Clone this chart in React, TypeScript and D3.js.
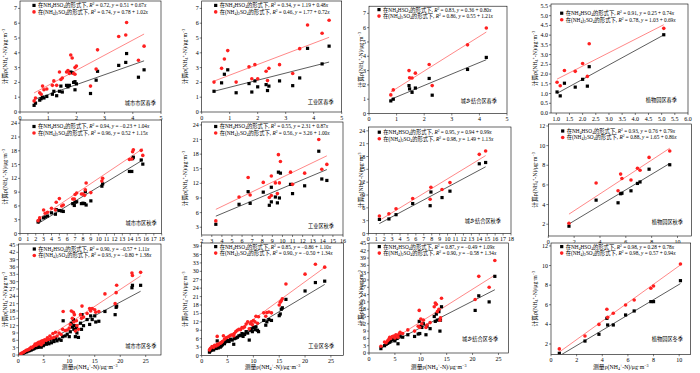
import React from "react";
import * as d3 from "d3";

// [measured, calc as NH4HSO4, calc as (NH4)2SO4]
type Obs = [number, number, number];

const urbanSpring: Obs[] = [
  [0.5, 0.45, 0.75], [0.55, 0.6, 0.95], [0.7, 0.8, 1.3], [0.75, 0.9, 1.2], [0.8, 1.0, 1.75],
  [0.85, 0.95, 1.5], [0.95, 1.05, 1.55], [1.15, 1.2, 1.8], [1.2, 1.4, 2.1], [1.3, 1.1, 1.8],
  [1.4, 1.4, 2.7], [1.45, 1.75, 2.2], [1.5, 1.35, 2.3], [1.65, 1.8, 2.7], [1.7, 1.7, 2.8],
  [1.75, 1.8, 2.6], [1.8, 2.7, 3.85], [1.85, 2.65, 3.65], [1.9, 2.0, 2.6], [1.95, 2.05, 3.0],
  [2.0, 1.9, 3.1], [1.95, 1.5, 2.55], [2.5, 1.25, 1.75], [2.7, 2.15, 2.9], [2.75, 2.75, 4.2],
  [3.5, 3.15, 5.1], [3.75, 3.35, 5.2], [3.78, 3.95, 6.05], [4.2, 2.35, 3.5], [4.4, 2.85, 4.45],
];
const industrialSpring: Obs[] = [
  [0.44, 1.4, 2.02], [0.71, 1.97, 2.95], [0.81, 2.55, 3.58], [0.93, 2.85, 4.15], [1.23, 1.3, 2.02],
  [1.69, 1.92, 3.05], [1.79, 1.35, 2.25], [1.9, 2.1, 3.2], [2.0, 1.7, 2.25], [2.3, 1.85, 2.75],
  [2.35, 1.45, 2.12], [2.4, 1.75, 2.95], [2.78, 2.1, 3.2], [3.25, 1.78, 2.6], [3.5, 2.3, 4.28],
  [3.78, 4.3, 5.88], [4.3, 3.25, 5.32], [4.55, 4.45, 6.2],
];
const periurbanSpring: Obs[] = [
  [0.79, 0.88, 1.3], [0.88, 1.0, 1.65], [1.45, 1.95, 3.0], [1.47, 1.72, 2.5], [1.56, 1.48, 2.48],
  [1.68, 1.78, 2.82], [2.18, 2.45, 3.42], [2.29, 1.28, 1.95], [3.57, 3.08, 4.8], [4.25, 3.92, 5.98],
];
const botanicalSpring: Obs[] = [
  [1.03, 1.08, 1.58], [1.15, 0.88, 1.4], [1.31, 1.53, 2.18], [1.72, 1.33, 2.14],
  [2.0, 1.73, 2.54], [2.18, 1.38, 1.88], [2.25, 2.38, 3.56], [5.08, 4.02, 4.35],
];
const urbanAutumn: Obs[] = [
  [2.3, 2.5, 2.8], [2.5, 2.9, 3.4], [3.0, 3.4, 5.1], [3.2, 3.6, 4.4], [3.5, 3.8, 4.6],
  [4.0, 4.5, 5.5], [4.5, 4.2, 5.1], [4.6, 5.2, 6.8], [5.0, 5.0, 7.6], [5.3, 4.9, 6.0],
  [5.5, 4.8, 6.2], [6.7, 6.5, 7.5], [6.9, 6.1, 7.5], [7.0, 6.8, 8.5], [7.2, 6.9, 8.8],
  [7.8, 6.5, 8.6], [8.0, 6.6, 8.6], [8.2, 6.5, 8.3], [8.4, 6.2, 11.0], [8.3, 9.1, 9.5],
  [9.0, 7.1, 8.9], [10.4, 10.3, 11.4], [10.5, 10.8, 12.0], [13.9, 13.5, 16.1], [14.2, 13.5, 16.2],
  [14.3, 16.3, 17.8], [14.4, 16.6, 18.2], [15.4, 16.0, 18.1], [15.6, 15.1, 17.0],
];
const industrialAutumn: Obs[] = [
  [3.4, 3.6, 4.3], [5.7, 7.7, 9.2], [6.6, 10.3, 13.2], [6.8, 7.9, 9.6], [8.1, 10.2, 12.2],
  [8.7, 7.5, 9.1], [8.9, 8.2, 9.5], [8.9, 11.2, 13.5], [9.3, 9.2, 12.1], [9.5, 8.0, 9.9],
  [9.6, 14.3, 17.9], [9.7, 9.0, 12.1], [9.8, 14.1, 16.5], [10.8, 11.8, 14.3], [11.0, 9.9, 11.8],
  [12.2, 11.5, 14.1], [13.6, 18.6, 21.0], [13.9, 12.9, 14.9], [14.4, 12.6, 15.9],
];
const periurbanAutumn: Obs[] = [
  [1.4, 3.3, 4.1], [2.6, 3.4, 4.6], [3.5, 4.4, 5.8], [5.6, 7.0, 8.2], [7.8, 6.5, 8.0],
  [7.9, 9.7, 10.8], [9.3, 8.4, 10.3], [10.3, 9.9, 11.9], [14.0, 16.3, 18.5], [14.8, 16.6, 19.3],
];
const botanicalAutumn: Obs[] = [
  [1.6, 1.8, 2.1], [3.7, 4.45, 6.2], [5.4, 4.18, 5.4], [5.6, 5.1, 7.1], [5.7, 5.15, 6.65],
  [6.4, 5.4, 6.5], [6.9, 6.15, 7.7], [7.1, 6.3, 7.5], [7.8, 7.6, 8.8], [9.4, 8.05, 9.45],
];
const urbanWinter: Obs[] = [
  [0.5, 0.3, 0.5], [0.7, 0.5, 0.8], [1.0, 0.8, 1.1], [1.2, 1.0, 1.4], [1.5, 1.2, 1.8],
  [1.7, 1.4, 2.0], [2.0, 1.7, 2.2], [2.2, 1.8, 2.5], [2.5, 2.0, 3.2], [2.7, 2.3, 3.0],
  [3.0, 2.5, 3.6], [3.2, 2.8, 3.9], [3.3, 3.5, 4.5], [3.5, 3.0, 4.0], [3.7, 3.3, 4.8],
  [3.9, 3.1, 4.5], [4.0, 3.8, 5.2], [4.2, 3.5, 4.7], [4.4, 4.0, 5.5], [4.5, 3.2, 4.2],
  [4.7, 4.5, 5.8], [4.9, 3.8, 5.0], [5.0, 4.2, 5.9], [5.2, 5.0, 6.2], [5.5, 4.4, 6.0],
  [5.7, 5.5, 7.0], [6.0, 4.6, 6.4], [6.2, 6.2, 7.8], [6.5, 5.0, 6.9], [6.8, 6.5, 8.8],
  [7.0, 5.5, 7.2], [7.3, 6.8, 9.3], [7.6, 5.8, 7.8], [8.0, 6.5, 9.0], [8.4, 6.0, 8.4],
  [8.7, 7.5, 10.5], [8.8, 14.0, 17.8], [9.2, 7.8, 10.0], [9.6, 8.5, 10.2], [10.0, 7.5, 11.0],
  [10.2, 9.5, 12.5], [10.4, 13.0, 18.0], [10.6, 11.5, 15.0], [10.8, 14.5, 17.5], [10.9, 10.5, 13.5],
  [11.0, 12.0, 16.5], [11.2, 7.5, 9.8], [11.4, 11.0, 14.0], [11.5, 9.0, 12.0], [11.8, 7.2, 10.5],
  [12.2, 13.0, 16.5], [12.4, 10.5, 15.0], [12.5, 16.5, 20.0], [12.8, 12.0, 15.5], [13.5, 14.5, 17.0],
  [14.0, 12.5, 19.0], [14.2, 16.0, 18.0], [14.5, 14.5, 19.0], [15.0, 16.0, 18.5], [15.2, 13.5, 17.5],
  [15.8, 13.8, 17.8], [17.0, 17.8, 25.0], [19.0, 16.5, 21.0], [19.2, 19.5, 25.5], [19.3, 20.0, 28.5],
  [22.3, 27.5, 33.5], [22.4, 28.5, 32.5], [24.0, 28.5, 33.8],
];
const industrialWinter: Obs[] = [
  [1.5, 1.2, 2.0], [1.7, 1.8, 2.6], [2.0, 2.3, 3.2], [2.3, 2.0, 2.9], [2.5, 2.8, 3.6],
  [2.8, 2.5, 3.4], [3.0, 5.2, 6.8], [3.0, 3.0, 4.0], [3.2, 2.7, 3.8], [3.4, 3.2, 4.2],
  [3.6, 3.0, 4.4], [3.8, 3.4, 4.6], [4.0, 3.8, 5.0], [4.2, 4.5, 7.0], [4.4, 4.2, 5.8],
  [4.7, 5.0, 6.3], [5.0, 5.3, 6.5], [5.3, 5.0, 6.8], [5.6, 5.8, 7.2], [5.9, 5.5, 7.4],
  [6.2, 4.0, 7.0], [6.3, 6.0, 7.8], [6.6, 6.2, 8.5], [6.9, 6.5, 9.0], [7.2, 7.0, 9.3],
  [7.5, 7.2, 9.2], [7.8, 7.8, 10.0], [8.0, 6.8, 9.8], [8.3, 7.5, 10.2], [8.6, 8.5, 11.2],
  [8.9, 8.0, 12.0], [9.2, 5.5, 9.5], [9.4, 9.0, 11.3], [9.6, 9.5, 12.0], [9.8, 8.5, 11.0],
  [10.0, 10.0, 12.5], [10.3, 9.2, 12.0], [10.5, 10.2, 14.0], [10.8, 9.0, 11.5], [11.0, 8.5, 13.8],
  [12.0, 12.5, 15.2], [12.4, 10.8, 14.0], [12.6, 12.0, 15.3], [13.0, 12.8, 15.5], [13.5, 12.5, 15.2],
  [15.0, 14.2, 18.0], [15.2, 14.8, 19.0], [15.4, 16.5, 19.5], [15.6, 17.0, 20.2], [16.3, 20.0, 25.5],
  [20.0, 23.0, 29.0], [22.0, 26.0, 32.5], [23.8, 26.5, 31.5],
];
const periurbanWinter: Obs[] = [
  [2.3, 1.8, 2.8], [3.0, 3.0, 4.5], [3.3, 3.6, 4.2], [3.6, 4.0, 5.0], [3.8, 4.5, 5.5],
  [4.0, 4.5, 6.5], [4.2, 5.0, 6.0], [4.5, 5.5, 6.8], [4.8, 6.0, 7.0], [5.0, 5.0, 6.2],
  [5.2, 6.5, 7.5], [5.4, 6.0, 7.2], [5.6, 3.8, 6.5], [5.8, 6.8, 7.8], [6.0, 7.0, 8.5],
  [6.5, 6.5, 8.0], [7.5, 7.5, 9.5], [8.8, 6.8, 9.0], [9.5, 7.8, 11.0], [9.7, 13.0, 17.5],
  [9.8, 8.0, 10.5], [10.0, 11.0, 14.0], [10.2, 10.5, 12.0], [10.5, 12.0, 13.5], [11.0, 7.5, 10.5],
  [11.2, 11.0, 11.5], [11.8, 10.0, 12.5], [12.6, 15.0, 19.0], [12.8, 13.0, 20.5], [13.0, 16.0, 20.0],
  [13.2, 13.5, 17.0], [13.5, 17.0, 18.0], [13.7, 9.0, 13.5], [13.8, 13.5, 14.5], [14.0, 19.0, 22.5],
  [20.5, 17.5, 22.0], [21.2, 23.5, 31.5], [23.2, 21.0, 27.0], [24.3, 31.5, 38.0],
];
const botanicalWinter: Obs[] = [
  [0.65, 1.05, 1.5], [2.65, 2.3, 2.82], [3.74, 2.99, 4.0], [4.36, 4.62, 5.54], [4.42, 3.94, 4.72],
  [4.86, 3.94, 5.13], [5.82, 4.96, 5.98], [6.49, 5.37, 6.49], [7.79, 6.32, 7.68], [8.0, 6.32, 7.92],
  [10.1, 8.46, 10.16],
];

const panelData = [
  urbanSpring, industrialSpring, periurbanSpring, botanicalSpring,
  urbanAutumn, industrialAutumn, periurbanAutumn, botanicalAutumn,
  urbanWinter, industrialWinter, periurbanWinter, botanicalWinter,
];
const regionNames = [
  "城市市区春季", "工业区春季", "城乡结合区春季", "植物园区春季",
  "城市市区秋季", "工业区秋季", "城乡结合区秋季", "植物园区秋季",
  "城市市区冬季", "工业区冬季", "城乡结合区冬季", "植物园区冬季",
];
// [R2, intercept, slope]
const fitsHSO4 = [
  [0.72, 0.51, 0.67], [0.34, 1.19, 0.48], [0.83, 0.36, 0.8], [0.91, 0.25, 0.74],
  [0.94, -0.23, 1.04], [0.55, 2.31, 0.87], [0.95, 0.94, 0.99], [0.93, 0.76, 0.79],
  [0.9, -0.57, 1.11], [0.85, -0.86, 1.1], [0.87, -0.49, 1.09], [0.98, 0.28, 0.78],
];
const fitsSO4 = [
  [0.74, 0.78, 1.02], [0.46, 1.77, 0.72], [0.86, 0.55, 1.21], [0.78, 1.03, 0.69],
  [0.96, 0.52, 1.15], [0.56, 3.26, 1.0], [0.98, 1.49, 1.13], [0.88, 1.65, 0.86],
  [0.93, -0.8, 1.38], [0.9, -0.5, 1.34], [0.9, -0.58, 1.34], [0.98, 0.57, 0.94],
];
// tick specs [start, stop, step, decimals]
const xTicks = [
  [0, 5, 1, 0], [0, 5, 1, 0], [0, 5, 1, 0], [1, 6, 0.5, 1],
  [0, 18, 1, 0], [2, 16, 1, 0], [0, 18, 1, 0], [0, 10, 2, 0],
  [0, 25, 5, 0], [0, 25, 5, 0], [0, 25, 5, 0], [0, 10, 2, 0],
];
const yTicks = [
  [0, 7, 1, 0], [0, 7, 1, 0], [0, 7, 1, 0], [0, 5.5, 0.5, 1],
  [0, 24, 3, 0], [3, 24, 3, 0], [0, 24, 3, 0], [2, 12, 2, 0],
  [0, 45, 3, 0], [0, 39, 3, 0], [0, 45, 3, 0], [2, 12, 2, 0],
];

// layout: frame box, axis domains, legend and label offsets
const layout = [
  { l: 20, r: 161, t: 1, b: 112, xd: [0, 5], yd: [0, 7.5], leg: [14, 4.4, 10.9], lab: [5, 7] },
  { l: 201.7, r: 341.7, t: 1, b: 112, xd: [0, 5], yd: [0, 7.5], leg: [14, 4.4, 10.9], lab: [8, 8.5] },
  { l: 369, r: 507, t: 6.2, b: 113.5, xd: [0, 5], yd: [0, 7.5], leg: [10, 3.4, 9.9], lab: [10, 11] },
  { l: 551, r: 688, t: 4, b: 113, xd: [0.8, 6], yd: [0, 5.6], leg: [10.7, 9.2, 15.7], lab: [11, 11.2] },
  { l: 20, r: 161.7, t: 120, b: 233.5, xd: [0, 18], yd: [0, 24.7], leg: [14, 6.5, 13], lab: [5, 9] },
  { l: 201.7, r: 343, t: 122, b: 235, xd: [2, 16], yd: [1.4, 24.6], leg: [14, 4.5, 11], lab: [9, 7.2] },
  { l: 368.3, r: 511, t: 127, b: 233.5, xd: [0, 18], yd: [0, 24.9], leg: [11, 5.2, 11.7], lab: [10, 11] },
  { l: 548.3, r: 691.7, t: 124, b: 236, xd: [0, 11.1], yd: [0.8, 12.2], leg: [14.4, 7, 13.5], lab: [8.7, 12.5] },
  { l: 18.3, r: 161, t: 244, b: 355, xd: [0, 28], yd: [0, 45.4], leg: [16, 5, 11.5], lab: [4.5, 7.2] },
  { l: 201.7, r: 343.3, t: 243, b: 355.5, xd: [0, 27.4], yd: [0, 40.1], leg: [14, 3.6, 10.1], lab: [9, 7.7] },
  { l: 369, r: 508.3, t: 243, b: 353, xd: [0, 26.9], yd: [0, 45.2], leg: [10.3, 3.6, 10.1], lab: [10, 11.9] },
  { l: 551, r: 690.7, t: 243, b: 354.3, xd: [0, 10.9], yd: [0.95, 12.3], leg: [10.7, 3.6, 10.1], lab: [7.7, 13.2] },
];
const yTitleX = [5, 185, 361, 535];

const SERIF = "'Times New Roman', 'Liberation Serif', 'Noto Sans CJK SC', serif";
const RED = "#ff2020";
const RED_LINE = "#ff6a6a";
const GREY_LINE = "#333";

const sub = (t: string) => (
  <tspan baselineShift={-1} fontSize="70%">{t}</tspan>
);
const sup = (t: string) => (
  <tspan baselineShift={1.8} fontSize="70%">{t}</tspan>
);
const num = (v: number) => (v < 0 ? "\u2212" + Math.abs(v).toFixed(2) : v.toFixed(2));

function LegendText({ kind, fit }: { kind: number; fit: number[] }) {
  return (
    <>
      在
      {kind === 0 ? (
        <>NH{sub("4")}HSO{sub("4")}</>
      ) : (
        <>(NH{sub("4")}){sub("2")}SO{sub("4")}</>
      )}
      的形式下, <tspan fontStyle="italic">R</tspan>{sup("2")} = {fit[0].toFixed(2)},{" "}
      <tspan fontStyle="italic">y</tspan> = {num(fit[1])} + {fit[2].toFixed(2)}
      <tspan fontStyle="italic">x</tspan>
    </>
  );
}

const QuantityLabel = ({ prefix }: { prefix: string }) => (
  <>
    {prefix}ρ(NH{sub("4")}{sup("+")}-N)/μg·m{sup("−3")}
  </>
);

function Panel({ i }: { i: number }) {
  const L = layout[i];
  const data = panelData[i];
  const x = d3.scaleLinear().domain(L.xd).range([L.l, L.r]);
  const y = d3.scaleLinear().domain(L.yd).range([L.b, L.t]);
  const [xs, xe, xst, xdec] = xTicks[i];
  const [ys, ye, yst, ydec] = yTicks[i];
  const xt = d3.range(xs, xe + 1e-6, xst);
  const yt = d3.range(ys, ye + 1e-6, yst);
  const ext = d3.extent(data, (d) => d[0]) as [number, number];
  const fitPath = (fit: number[]) =>
    d3
      .line<number>()
      .x((v) => x(v))
      .y((v) => y(fit[1] + fit[2] * v))(ext);
  const clipId = `clip${i}`;
  const row = Math.floor(i / 4);
  const col = i % 4;
  return (
    <g>
      <clipPath id={clipId}>
        <rect x={L.l} y={L.t} width={L.r - L.l} height={L.b - L.t} />
      </clipPath>
      <rect x={L.l} y={L.t} width={L.r - L.l} height={L.b - L.t} fill="#fff" stroke="#000" strokeWidth={0.6} />
      {xt.map((v) => (
        <g key={"x" + v}>
          <line x1={x(v)} x2={x(v)} y1={L.b} y2={L.b + 2} stroke="#000" strokeWidth={0.5} />
          <text x={x(v)} y={L.b + 7.5} fontSize={6} textAnchor="middle" fontFamily={SERIF}>
            {v.toFixed(xdec)}
          </text>
        </g>
      ))}
      {yt.map((v) => (
        <g key={"y" + v}>
          <line x1={L.l - 2} x2={L.l} y1={y(v)} y2={y(v)} stroke="#000" strokeWidth={0.5} />
          <text x={L.l - 3} y={y(v) + 2} fontSize={6} textAnchor="end" fontFamily={SERIF}>
            {v.toFixed(ydec)}
          </text>
        </g>
      ))}
      <g clipPath={`url(#${clipId})`}>
        <path d={fitPath(fitsSO4[i]) || ""} stroke={RED_LINE} strokeWidth={0.8} fill="none" />
        <path d={fitPath(fitsHSO4[i]) || ""} stroke={GREY_LINE} strokeWidth={0.8} fill="none" />
        {data.map((d, k) => (
          <rect key={"b" + k} x={x(d[0]) - 1.6} y={y(d[1]) - 1.6} width={3.2} height={3.2} fill="#000" />
        ))}
        {data.map((d, k) => (
          <circle key={"r" + k} cx={x(d[0])} cy={y(d[2])} r={1.8} fill={RED} />
        ))}
      </g>
      {/* legend */}
      <rect x={L.l + L.leg[0] - 1.6} y={L.t + L.leg[1] - 1.6} width={3.2} height={3.2} fill="#000" />
      <circle cx={L.l + L.leg[0]} cy={L.t + L.leg[2]} r={1.8} fill={RED} />
      <text x={L.l + L.leg[0] + 4} y={L.t + L.leg[1] + 1.9} fontSize={5.3} fontFamily={SERIF}>
        <LegendText kind={0} fit={fitsHSO4[i]} />
      </text>
      <text x={L.l + L.leg[0] + 4} y={L.t + L.leg[2] + 1.9} fontSize={5.3} fontFamily={SERIF}>
        <LegendText kind={1} fit={fitsSO4[i]} />
      </text>
      <text x={L.r - L.lab[0]} y={L.b - L.lab[1]} fontSize={5.2} textAnchor="end" fontFamily={SERIF}>
        {regionNames[i]}
      </text>
      <text
        transform={`translate(${yTitleX[col]},${(L.t + L.b) / 2}) rotate(-90)`}
        fontSize={5.8}
        textAnchor="middle"
        dominantBaseline="central"
        fontFamily={SERIF}
      >
        <QuantityLabel prefix="计算" />
      </text>
      {row === 2 && (
        <text x={(L.l + L.r) / 2} y={369} fontSize={5.8} textAnchor="middle" fontFamily={SERIF}>
          <QuantityLabel prefix="测量" />
        </text>
      )}
    </g>
  );
}

export default function App() {
  return (
    <svg
      width={700}
      height={373}
      style={{ position: "absolute", left: 0, top: 0, background: "#fff" }}
    >
      <rect width={700} height={373} fill="#fff" />
      {panelData.map((_, i) => (
        <Panel key={i} i={i} />
      ))}
    </svg>
  );
}
